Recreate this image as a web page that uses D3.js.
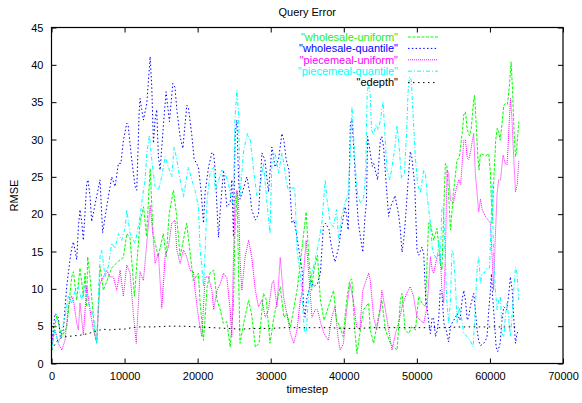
<!DOCTYPE html>
<html>
<head>
<meta charset="utf-8">
<script src="https://cdn.jsdelivr.net/npm/d3@7"></script>
<style>
  body { margin: 0; background: #fff; }
  svg { display: block; font-family: "Liberation Sans", Arial, Helvetica, sans-serif; }
  .tick text { font-size: 11px; fill: #000; }
</style>
</head>
<body>
<svg width="582" height="403"></svg>
<script>
// series as [timestep, rmse] pairs
const wholesaleUniform = [[0,1.8],[700,6.4],[1400,3.6],[2100,4.9],[2760,11.6],[3000,12.3],[3450,8.5],[3900,12.8],[4360,9.0],[4590,12.1],[4800,7.6],[4950,14.3],[5270,11.6],[5960,3.6],[6200,2.7],[6640,13.0],[7100,9.8],[8240,12.8],[9160,13.7],[9840,14.2],[10300,17.4],[10750,16.8],[11350,9.0],[12100,18.8],[12600,21],[13000,17],[13500,26.1],[13900,17.4],[14600,14.3],[15300,17.4],[15700,14.3],[16100,20],[16680,23.2],[17100,20],[17600,14.3],[18500,18.8],[19400,11.1],[20100,12.1],[20340,8.1],[20800,3.1],[21300,10.3],[21700,12.1],[22200,12.5],[22650,8.5],[23100,7.2],[23500,5.4],[24000,5.6],[24450,2.2],[24900,7.6],[25100,17.4],[25400,23],[25600,12],[25800,2.7],[26300,5.4],[26970,8.5],[27400,6.5],[27900,2.2],[28400,2.7],[29000,9.4],[29400,8.5],[29900,2.7],[30400,6.0],[31300,10.3],[31800,6.2],[32200,6.7],[32700,4.9],[33600,9.8],[34000,13.0],[34400,16.5],[34850,20.3],[35200,14.3],[35600,9.8],[35900,12.5],[36400,14.5],[36800,8.5],[37300,5.8],[37900,7.6],[38600,9.8],[39000,5.8],[39500,4.9],[39900,3.6],[40400,8.5],[40800,11.1],[41100,11.3],[41500,4.5],[41800,1.3],[42200,4.0],[42700,7.2],[43400,8.1],[43630,4.5],[44080,2.7],[45000,7.6],[45200,8.5],[45700,4.5],[46370,2.7],[46800,2.2],[47300,1.8],[47740,8.5],[47970,9.4],[48400,4.5],[48900,4.0],[49300,4.9],[49800,4.5],[50260,9.0],[50700,8.1],[51170,7.6],[51600,18.8],[51850,18.8],[52300,16.5],[52760,18.1],[53200,13.4],[53430,12.5],[53700,21],[53900,26.8],[54100,26.5],[54350,22.5],[54600,17.9],[55000,22.8],[55500,27.3],[55800,27.5],[56200,30.8],[56420,33.3],[56650,33.7],[56900,31.3],[57200,30.5],[57450,31.5],[57600,33.3],[57780,35.3],[57900,35.9],[58150,31.5],[58330,27.9],[58510,25.9],[58700,28.1],[59000,28.0],[59400,27.8],[59840,28.1],[60070,25.5],[60300,18.8],[60550,25],[60800,30],[61000,31.5],[61200,31.0],[61400,29.9],[61650,32],[61900,34.6],[62100,34.8],[62400,34.7],[62650,37],[62900,40.4],[63100,36.5],[63300,31],[63500,27.7],[63650,28.5],[63800,30.5],[63950,32.4]]

const wholesaleQuantile = [[0,2.2],[480,6.7],[940,6.2],[1200,3.6],[1620,4.5],[2080,10.3],[2530,13.9],[2760,15.4],[3000,16.3],[3450,13.9],[3680,18.3],[3900,20.6],[4130,19],[4360,16.5],[4820,24.1],[5000,24.6],[5270,22.4],[5500,19],[6000,21.5],[6640,24.6],[7000,17.5],[7560,21],[8240,25],[8700,23.7],[9160,26.8],[9500,26.8],[9840,29.9],[10300,32.2],[10500,31.8],[10980,27.3],[11440,23.7],[11670,23.2],[11990,33.5],[12120,35.5],[12350,34.0],[12580,32.6],[13040,34.8],[13500,41.1],[13720,37.1],[13950,29.5],[14170,32.6],[14400,34.0],[14630,27.7],[14860,25.9],[15320,32.0],[15680,36.4],[16140,32.4],[16600,37.5],[16900,37.0],[17150,34.0],[17600,30.4],[17970,28.8],[18520,34.6],[18750,34.2],[19200,30.6],[19520,27.4],[20110,26.3],[20480,23.0],[20800,18.8],[21030,23],[21490,26.3],[21940,28.2],[22170,28.2],[22400,25.9],[22850,16.9],[23100,20.6],[23540,25.9],[24000,21],[24450,21.5],[24680,24.6],[24900,17],[25140,30.8],[25370,32.6],[25600,24.6],[25800,22.0],[26300,23.5],[26740,25.0],[27200,22.5],[27400,20.6],[27900,19.2],[28330,20],[28800,28.2],[29200,27.3],[29700,23.0],[30160,29.0],[30600,26.3],[31070,27.3],[31530,30.8],[31800,29.9],[32120,27.3],[32500,25.9],[32900,18.8],[33200,19.2],[33600,16.9],[34000,14.3],[34300,12.5],[34500,7.6],[34700,6.2],[34900,8.5],[35200,9.8],[35500,11.1],[35900,10.3],[36400,10.7],[36800,12.1],[37200,18.3],[37500,18.8],[38000,17.9],[38200,16.3],[38600,14.3],[38800,13.6],[39300,15.6],[39700,18.3],[40200,21],[40400,19.7],[40600,17.9],[40900,32.2],[41120,32.6],[41300,29.9],[41600,24.6],[42000,18.8],[42600,14.9],[42900,19.7],[43100,21.5],[43260,30.4],[43500,29.0],[43900,26.4],[44100,26.8],[44400,25.5],[44630,24.6],[45000,29.9],[45200,30.4],[45450,29.0],[45800,24.0],[46140,19.7],[46400,21],[46800,21.9],[47000,22.5],[47500,20],[47740,17.9],[47970,14.9],[48200,16.5],[48400,18.8],[48700,23],[49100,28.4],[49300,27.7],[49700,24.0],[50020,15.2],[50260,14.5],[50700,15.6],[50940,14.7],[51200,9.0],[51600,5.8],[51850,4.0],[52100,6.2],[52300,6.0],[52560,3.6],[52800,4.5],[53000,6.2],[53200,9.8],[53430,9.4],[53700,5.4],[54000,4.5],[54350,2.9],[54600,4.9],[54800,5.4],[55300,6.2],[55500,6.7],[55900,5.8],[56200,8.5],[56420,9.8],[56650,8.5],[56900,5.8],[57100,6.2],[57300,7.6],[57550,8.5],[57780,9.4],[58000,7.2],[58240,4.5],[58470,3.0],[58700,2.4],[59150,2.7],[59400,3.1],[59600,3.6],[59840,7.2],[60070,9.8],[60200,12.0],[60350,9.4],[60600,5.8],[60850,2.2],[61070,1.6],[61400,2.7],[61600,5.4],[61900,7.6],[62300,7.2],[62550,9.0],[62800,11.6],[63050,9.8],[63250,6.2],[63500,2.7],[63700,4.0],[63950,4.5]]

const piecemealUniform = [[0,3.0],[480,4.5],[940,2.7],[1400,1.8],[1850,3.1],[2300,7.6],[2760,9.0],[3000,8.5],[3450,5.4],[3680,4.5],[3900,8.1],[4360,3.8],[4820,10.3],[5270,7.2],[5730,4.5],[6180,2.9],[6640,10.7],[7100,11.6],[7560,12.5],[8000,11.6],[8470,11.6],[8930,9.8],[9390,12.5],[9840,9.0],[10300,13.2],[10750,12.1],[11200,6.7],[11600,2.7],[12120,12.3],[12580,11.1],[13040,16.1],[13500,21.2],[13950,16.5],[14170,13.4],[14630,14.7],[15090,7.4],[15550,14.3],[16000,15.6],[16460,18.8],[16900,19.2],[17150,15.2],[17600,13.4],[18060,15.2],[18500,14.3],[18970,12.5],[19430,12.3],[19650,9.8],[20110,6.2],[20570,3.6],[21030,11.6],[21480,11.6],[21940,9.8],[22200,7.2],[22650,9.8],[23100,10.7],[23540,12.1],[24000,11.5],[24450,7.2],[24680,3.6],[24900,14.3],[25140,21.9],[25370,23.2],[25600,21.9],[25800,13.9],[26050,9.8],[26500,14.3],[26970,16.5],[27400,14.3],[27900,9.8],[28330,7.6],[28800,8.5],[29250,6.2],[29700,7.2],[30160,10.7],[30400,11.1],[30850,7.6],[31300,14.2],[31750,9.0],[32200,6.7],[32700,4.0],[33150,2.7],[33600,4.5],[34050,8.5],[34300,9.4],[34600,13.4],[34850,16.5],[35200,12.1],[35650,6.2],[36100,7.2],[36400,7.2],[36850,5.4],[37300,4.0],[37900,3.1],[38350,6.2],[38800,7.6],[39200,3.6],[39500,1.8],[39950,2.7],[40400,7.2],[40850,10.7],[41300,8.5],[41750,4.9],[42200,4.5],[42600,9.8],[43400,12.1],[43630,11.1],[44080,6.2],[44500,4.5],[45000,7.2],[45200,9.8],[45700,7.2],[46140,4.5],[46600,1.8],[47070,4.0],[47500,5.4],[47970,7.6],[48600,9.4],[49100,10.3],[49550,9.0],[50020,6.2],[50480,5.8],[50940,5.4],[51400,7.6],[51850,14.3],[52100,12.5],[52300,12.1],[52760,14.3],[53200,14.7],[53430,9.8],[53670,8.1],[53900,14.3],[54130,25.9],[54350,25.5],[54600,21.9],[55000,21.5],[55400,23.5],[55730,24.6],[56000,24],[56420,29.9],[56650,29.9],[56900,27.5],[57100,27.3],[57400,28.6],[57600,29.9],[57780,30.8],[58000,25.5],[58240,22.8],[58470,20.3],[58700,22.0],[58950,20.6],[59380,19.7],[59700,19.3],[60070,18.8],[60300,14.3],[60500,9.8],[60700,16],[60980,22.8],[61200,24.6],[61450,24.6],[61800,27.9],[62100,26.8],[62350,26.6],[62600,31.5],[62810,35.5],[63000,33],[63250,27.7],[63500,23.0],[63750,24.0],[63950,27.2]]

const piecemealQuantile = [[0,1.7],[480,4.5],[940,2.7],[1400,4.5],[1850,6.2],[2300,9.0],[2760,8.1],[3220,9.8],[3680,10.3],[4130,8.5],[4590,10.3],[5050,8.1],[5730,6.2],[6180,2.7],[6640,14.3],[6870,15.2],[7330,11.6],[7790,13.0],[8240,16.1],[8700,15.4],[9160,17.4],[9600,16.5],[10100,18.3],[10300,20.6],[10750,17.4],[11440,16.1],[12120,19.7],[12350,21.5],[12580,23.2],[12800,24.5],[13040,28.1],[13400,30.6],[13720,27.3],[14170,23.7],[14630,23.2],[15090,25.0],[15550,27.7],[16000,26.3],[16460,25.0],[16780,29.0],[17150,27.3],[17600,24.6],[18060,22.3],[18740,26.3],[19200,24.6],[19650,23.2],[20110,21.0],[20340,15.2],[20570,13],[20800,10.3],[21030,15.2],[21300,22],[21700,25.5],[22200,26.3],[22400,23.2],[22850,24.5],[23300,25.9],[23770,25.5],[24220,24.1],[24680,21.5],[24900,22],[25100,32.6],[25370,36.6],[25600,33.5],[25800,22.5],[26300,28.6],[26830,30.8],[27200,29.9],[27650,25.9],[28100,22.5],[28560,23.7],[29000,26.8],[29450,22.0],[29900,17.4],[30160,26.8],[30600,28.2],[31070,25.5],[31530,28.2],[31800,26.8],[32120,24.6],[32400,23.2],[32800,23.5],[33300,23.5],[33600,15.2],[34100,11.6],[34600,4.5],[34850,4.0],[35200,9.4],[35650,12.1],[36100,14.0],[36550,16.1],[37000,18.8],[37460,24.6],[37700,22],[38150,18.8],[38600,18.3],[39000,20.6],[39300,16.5],[39700,19.7],[40200,21.5],[40600,22.9],[40900,28],[41120,34.4],[41300,31.3],[41600,26],[41900,22.5],[42300,21.5],[42700,22.2],[43000,25.5],[43200,36.2],[43400,37.5],[43630,35.7],[43800,31.3],[44100,30.6],[44400,32.0],[44700,31.3],[45000,32.5],[45370,35.1],[45600,31.3],[45900,26.0],[46300,24.6],[46600,26.3],[47000,29],[47280,31.9],[47500,29.9],[47900,24.8],[48300,25.5],[48600,31.0],[48800,36.4],[49000,38.4],[49250,37.9],[49500,33],[49800,27.5],[50100,24],[50480,22.8],[50940,25.9],[51170,25.5],[51400,22.5],[51850,18.8],[52100,15.5],[52300,14.7],[52760,13.9],[53000,16.5],[53200,13.4],[53430,21.0],[53670,20.6],[53900,13.4],[54100,8.5],[54350,5.4],[54600,8.5],[54800,15.2],[55000,14.7],[55300,10.3],[55500,5.4],[55730,7.6],[56000,6.7],[56420,4.0],[56900,3.6],[57300,3.1],[57700,2.2],[58000,7.6],[58240,12.5],[58470,14.3],[58700,10.7],[58950,12.1],[59200,12.1],[59600,12.8],[59950,12.8],[60170,19.2],[60300,24],[60500,14.3],[60750,9.8],[60980,7.2],[61200,8.5],[61450,9.0],[61650,4.0],[61900,3.6],[62150,6.7],[62350,8.1],[62600,5.8],[62800,3.6],[63050,6.7],[63250,9.8],[63500,12.9],[63700,12.1],[63950,8.5]]

const edepth = [[0,1.8],[500,2.6],[1000,3.3],[1500,3.5],[2000,3.6],[3000,3.7],[4000,3.8],[5000,4.0],[6000,4.3],[7000,4.6],[8000,4.5],[9000,4.6],[10000,4.6],[11000,4.8],[12000,4.9],[14000,4.9],[16000,5.0],[18000,5.0],[20000,4.9],[22000,4.8],[24000,4.7],[26000,4.6],[28000,4.7],[30000,4.7],[32000,4.8],[34000,4.8],[36000,4.8],[38000,4.8],[40000,4.7],[42000,4.7],[44000,4.8],[46000,4.8],[48000,4.8],[50000,4.8],[52000,4.8],[54000,4.8],[56000,4.9],[58000,4.9],[60000,4.9],[62000,4.9],[63800,4.9]]

const seriesNames = ['"wholesale-uniform"', '"wholesale-quantile"', '"piecemeal-uniform"', '"piecemeal-quantile"', '"edepth"']
const seriesData = [wholesaleUniform, wholesaleQuantile, piecemealUniform, piecemealQuantile, edepth]
const seriesColors = ["#00ff00", "#0000ff", "#ff00ff", "#00ffff", "#000000"]
const seriesDash = ["3,1.5", "1.5,2.3", "1,1", "4,2,1,2", "1.5,3.5"]

const xTicks = [0, 10000, 20000, 30000, 40000, 50000, 60000, 70000]
const yTicks = [0, 5, 10, 15, 20, 25, 30, 35, 40, 45]

const margin = {top: 27.5, right: 19, bottom: 39.5, left: 51.5}
const width = 582 - margin.left - margin.right,
height = 403 - margin.top - margin.bottom

const svg = d3.select("svg")
const g = svg.append("g").attr("transform", `translate(${margin.left},${margin.top})`)

const x = d3.scaleLinear().domain([0, 70000]).range([0, width])
const y = d3.scaleLinear().domain([0, 45]).range([height, 0])

// title and axis labels
svg.append("text").attr("x", margin.left + width / 2).attr("y", 16)
  .attr("text-anchor", "middle").style("font-size", "11px").text("Query Error")
svg.append("text").attr("x", margin.left + width / 2).attr("y", 393)
  .attr("text-anchor", "middle").style("font-size", "11px").text("timestep")
svg.append("text").attr("transform", `translate(18,${margin.top + height / 2}) rotate(-90)`)
  .attr("text-anchor", "middle").style("font-size", "11px").text("RMSE")

// axes: gnuplot style inward ticks, mirrored
g.append("g").attr("transform", `translate(0,${height})`)
  .call(d3.axisBottom(x).tickValues(xTicks).tickFormat(d3.format("d")).tickSizeInner(-5).tickSizeOuter(0).tickPadding(9))
g.append("g")
  .call(d3.axisTop(x).tickValues(xTicks).tickFormat("").tickSizeInner(-5).tickSizeOuter(0))
g.append("g")
  .call(d3.axisLeft(y).tickValues(yTicks).tickSizeInner(-5).tickSizeOuter(0).tickPadding(8))
g.append("g").attr("transform", `translate(${width},0)`)
  .call(d3.axisRight(y).tickValues(yTicks).tickFormat("").tickSizeInner(-5).tickSizeOuter(0))
g.selectAll(".domain").remove()
g.selectAll(".tick line").attr("stroke", "#000")

const line = d3.line().x(d => x(d[0])).y(d => y(d[1]))

seriesData.forEach((data, i) => {
  g.append("path")
    .datum(data)
    .attr("fill", "none")
    .attr("stroke", seriesColors[i])
    .attr("stroke-width", 1)
    .attr("stroke-dasharray", seriesDash[i])
    .attr("d", line)
})

g.append("rect").attr("x", 0).attr("y", 0).attr("width", width).attr("height", height)
  .attr("fill", "none").attr("stroke", "#000").attr("stroke-width", 1.2)

// legend
const legend = svg.append("g")
seriesNames.forEach((name, i) => {
  const ly = 37 + i * 11.4
  legend.append("text").attr("x", 398).attr("y", ly).attr("dy", "0.35em")
    .attr("text-anchor", "end").style("font-size", "11px")
    .attr("fill", i === 4 ? "#000" : seriesColors[i] === "#00ff00" ? "#22ee22" : seriesColors[i])
    .text(name)
  legend.append("line").attr("x1", 408).attr("x2", 438).attr("y1", ly).attr("y2", ly)
    .attr("stroke", seriesColors[i]).attr("stroke-width", 1)
    .attr("stroke-dasharray", seriesDash[i])
})
</script>
</body>
</html>
